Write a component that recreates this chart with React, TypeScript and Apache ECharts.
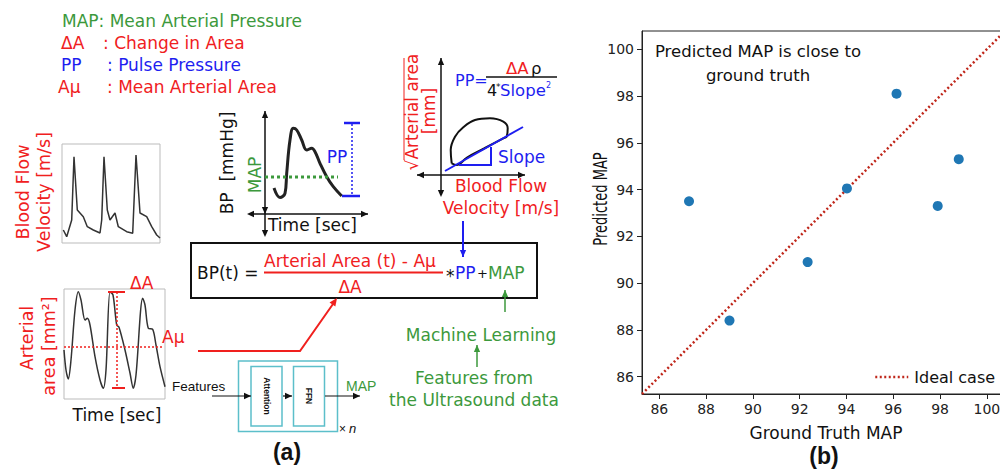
import React, { useEffect, useRef } from "react";
import * as echarts from "echarts";

// ---------- Panel (b): scatter data ----------
const groundTruthMAP = [87.27, 89.0, 92.34, 94.02, 96.14, 97.9, 98.8];
const predictedMAP = [93.5, 88.4, 90.9, 94.05, 98.1, 93.3, 95.3];
const idealCase = [85.26, 101.0];
const xTickValues = [86, 88, 90, 92, 94, 96, 98, 100];
const yTickValues = [86, 88, 90, 92, 94, 96, 98, 100];

// ---------- Panel (a): illustrative waveforms ----------
const velTime = [1.3, 4.7, 9.7, 12, 15.3, 21.3, 25.3, 31.3, 38, 39.7, 42, 45.3, 48, 53, 56.3, 64.7, 70.7, 74, 78, 84.7, 89.7, 94.7, 98];
const velValue = [13, 6.3, 23, 86.3, 33, 26.3, 16.3, 13, 10, 23, 86.3, 33, 23, 30, 16.3, 11.3, 9.7, 88, 30, 26.3, 16.3, 8, 5];

const areaTime = [0, 2, 4.3, 7, 11, 14.3, 17, 21, 23.3, 26, 31, 36, 39.3, 42, 46, 49, 52.7, 55, 61, 66, 69.3, 72, 78.7, 81, 84.3, 88.7, 92, 96, 101];
const areaValue = [49, 29, 20, 39, 89, 107.3, 99, 79, 80.7, 74, 42.3, 19, 10.7, 29, 107.3, 104, 74, 71.7, 49, 26, 10.7, 24, 100.7, 94, 70.7, 69.7, 54, 32.3, 12.3];

const bpTime = [9, 15, 20, 21.7, 25, 28.3, 31.7, 36.7, 41.7, 46.7, 50, 55, 61.7, 68.3, 76.7];
const bpValue = [26, 16.5, 20.7, 40.7, 74, 85.7, 84, 74, 64, 65.7, 62.3, 50.7, 37.3, 27.3, 18];

const loopFlow = [12.7, 11.7, 16, 24.3, 36, 51, 64.3, 68.7, 67.7, 64.3, 45, 28, 17.7, 12.7];
const loopArea = [12.7, 26, 39.3, 48.7, 56, 57.7, 54.3, 47.7, 39.3, 37.7, 27.5, 18.5, 11, 12.7];

const RED = "#f0201e";
const BLUE = "#1e1ef0";
const GREEN = "#3c993c";
const CYAN = "#5cbfca";
const FONT = "DejaVu Sans";
const ARIAL = "Liberation Sans";

const pairs = (a: number[], b: number[]) => a.map((v, i) => [v, b[i]]);

function T(text: string, x: number, y: number, o: any = {}) {
  return {
    type: "text",
    x,
    y,
    rotation: o.rot || 0,
    scaleX: o.sx || 1,
    scaleY: o.sy || 1,
    z: 10,
    style: {
      text,
      fill: o.color || "#111",
      fontSize: o.size || 17,
      fontFamily: o.family || FONT,
      fontWeight: o.weight || "normal",
      fontStyle: o.italic ? "italic" : "normal",
      textAlign: o.align || "left",
      textVerticalAlign: "middle",
    },
  };
}

function L(x1: number, y1: number, x2: number, y2: number, color: string, lw: number, dash?: number[]) {
  return {
    type: "line",
    z: 10,
    shape: { x1, y1, x2, y2 },
    style: { stroke: color, lineWidth: lw, lineDash: dash || null },
  };
}

function head(x: number, y: number, ang: number, size: number, color: string) {
  const w = size * 0.45;
  const bx = x - size * Math.cos(ang);
  const by = y - size * Math.sin(ang);
  const px = -Math.sin(ang) * w;
  const py = Math.cos(ang) * w;
  return {
    type: "polygon",
    z: 10,
    shape: { points: [[x, y], [bx + px, by + py], [bx - px, by - py]] },
    style: { fill: color },
  };
}

function arrow(x1: number, y1: number, x2: number, y2: number, color: string, lw: number, size: number, both = false) {
  const ang = Math.atan2(y2 - y1, x2 - x1);
  const els: any[] = [L(x1, y1, x2, y2, color, lw), head(x2, y2, ang, size, color)];
  if (both) els.push(head(x1, y1, ang + Math.PI, size, color));
  return els;
}

function buildGraphics() {
  const g: any[] = [];
  // legend of abbreviations
  g.push(T("MAP: Mean Arterial Pressure", 62, 21, { color: GREEN }));
  g.push(T("ΔA", 61, 43, { color: RED }));
  g.push(T(": Change in Area", 103, 43, { color: RED }));
  g.push(T("PP", 61, 65, { color: BLUE }));
  g.push(T(": Pulse Pressure", 107, 65, { color: BLUE }));
  g.push(T("Aμ", 58, 87, { color: RED }));
  g.push(T(": Mean Arterial Area", 107, 87, { color: RED }));

  // velocity mini plot labels
  g.push(T("Blood Flow", 23, 192, { color: RED, rot: Math.PI / 2, align: "center", size: 17.5 }));
  g.push(T("Velocity [m/s]", 44, 192, { color: RED, rot: Math.PI / 2, align: "center", size: 17.5 }));

  // arterial area mini plot labels / annotations
  g.push(T("Arterial", 27, 338, { color: RED, rot: Math.PI / 2, align: "center", size: 17.5 }));
  g.push(T("area [mm²]", 49, 346, { color: RED, rot: Math.PI / 2, align: "center", size: 17.5 }));
  g.push(T("Time [sec]", 117, 415, { align: "center" }));
  g.push(L(64, 347, 164, 347, RED, 1.5, [2, 2]));
  g.push(L(117, 292, 117, 388, RED, 1.5, [2, 2]));
  g.push(L(108, 292, 125, 292, RED, 2));
  g.push(L(112, 388, 125, 388, RED, 2));
  g.push(T("ΔA", 130, 283, { color: RED }));
  g.push(T("Aμ", 162, 337, { color: RED }));

  // BP plot
  g.push(...arrow(265, 214, 265, 111, "#111", 1.5, 7, true));
  g.push(L(265, 214, 265, 230, "#111", 1.5));
  g.push(head(265, 237, Math.PI / 2, 7, "#111"));
  g.push(...arrow(250, 214, 368, 214, "#111", 1.5, 7, false));
  g.push(head(247, 214, Math.PI, 7, "#111"));
  g.push(L(265, 177, 338, 177, GREEN, 3, [3, 3]));
  g.push(L(352, 124, 352, 196, BLUE, 1.5, [2, 2]));
  g.push(L(344, 123, 360, 123, BLUE, 2.5));
  g.push(L(342, 196, 360, 196, BLUE, 2.5));
  g.push(T("PP", 337, 157, { color: BLUE, align: "center" }));
  g.push(T("BP  [mmHg]", 227, 163, { rot: Math.PI / 2, align: "center" }));
  g.push(T("MAP", 255, 175, { color: GREEN, rot: Math.PI / 2, align: "center" }));
  g.push(T("Time [sec]", 268, 225));

  // loop plot
  g.push(...arrow(441, 175, 441, 58, "#111", 1.5, 7, false));
  g.push(L(441, 175, 441, 190, "#111", 1.5));
  g.push(head(441, 197, Math.PI / 2, 7, "#111"));
  g.push(...arrow(441, 175, 525, 175, "#111", 1.5, 7, false));
  g.push(...arrow(441, 175, 417, 175, "#111", 1.5, 7, false));
  g.push(L(445, 171, 523, 127, BLUE, 2));
  g.push({
    type: "polyline",
    z: 10,
    shape: { points: [[459, 165], [491, 165], [491, 147]] },
    style: { stroke: BLUE, lineWidth: 2, fill: null },
  });
  g.push(T("Slope", 498, 157, { color: BLUE }));
  g.push(T("√Arterial area", 412, 112, { color: RED, rot: Math.PI / 2, align: "center" }));
  g.push(L(404, 58, 404, 160, RED, 1));
  g.push(T("[mm]", 429, 111, { color: RED, rot: Math.PI / 2, align: "center" }));
  g.push(T("Blood Flow", 501, 186, { color: RED, align: "center" }));
  g.push(T("Velocity [m/s]", 501, 208, { color: RED, align: "center" }));
  // PP formula
  g.push(T("PP=", 455, 80, { color: BLUE, size: 16 }));
  g.push(L(486, 77, 557, 77, "#111", 1.5));
  g.push(T("ΔA", 506, 68, { color: RED, size: 16.5 }));
  g.push(T("ρ", 531, 68, { size: 16.5 }));
  g.push(T("4", 487, 90, { size: 16 }));
  g.push(T("*", 496, 87, { size: 9 }));
  g.push(T("Slope", 500, 90, { color: BLUE, size: 16.5 }));
  g.push(T("2", 546, 85, { color: BLUE, size: 8 }));

  // blue arrow to formula
  g.push(...arrow(463, 221, 463, 257, BLUE, 2, 7));

  // formula box
  g.push({
    type: "rect",
    z: 9,
    shape: { x: 191, y: 243, width: 346, height: 55 },
    style: { stroke: "#111", lineWidth: 2, fill: "#fff" },
  });
  g.push(T("BP(t) =", 197, 273, { size: 17 }));
  g.push(T("Arterial Area (t) - Aμ", 264, 261, { color: RED, size: 17 }));
  g.push(L(264, 272.5, 443, 272.5, RED, 2));
  g.push(T("ΔA", 350, 287, { color: RED, size: 17, align: "center" }));
  g.push(T("*", 446, 276, { size: 17 }));
  g.push(T("PP", 455, 273, { color: BLUE, size: 17 }));
  g.push(T("+", 477, 273, { size: 13 }));
  g.push(T("MAP", 488, 273, { color: GREEN, size: 17 }));

  // machine learning
  g.push(...arrow(505, 312, 505, 290, GREEN, 1.5, 7));
  g.push(T("Machine Learning", 481, 335, { color: GREEN, align: "center" }));
  g.push(...arrow(477, 367, 477, 345, GREEN, 1.5, 7));
  g.push(T("Features from", 474, 378, { color: GREEN, align: "center" }));
  g.push(T("the Ultrasound data", 474, 400, { color: GREEN, align: "center" }));

  // red connection
  g.push({
    type: "polyline",
    z: 10,
    shape: { points: [[198, 351], [300, 351], [333, 304]] },
    style: { stroke: RED, lineWidth: 2, fill: null },
  });
  g.push(head(337, 298, Math.atan2(298 - 351, 337 - 300), 8, RED));

  // transformer block
  g.push({ type: "rect", z: 10, shape: { x: 238.5, y: 361, width: 99, height: 70.5 }, style: { stroke: CYAN, lineWidth: 1.5, fill: null } });
  g.push({ type: "rect", z: 10, shape: { x: 251, y: 366.5, width: 31, height: 59.5 }, style: { stroke: CYAN, lineWidth: 1.5, fill: null } });
  g.push({ type: "rect", z: 10, shape: { x: 293.5, y: 366.5, width: 31, height: 59.5 }, style: { stroke: CYAN, lineWidth: 1.5, fill: null } });
  g.push(T("Attention", 267, 396, { family: ARIAL, size: 8.5, rot: -Math.PI / 2, align: "center", weight: "bold" }));
  g.push(T("FFN", 309, 396, { family: ARIAL, size: 8.5, rot: -Math.PI / 2, align: "center", weight: "bold" }));
  g.push(T("Features", 172, 386, { family: ARIAL, size: 13.5 }));
  g.push(...arrow(212, 396, 251, 396, "#111", 1.2, 7));
  g.push(...arrow(283, 396, 292, 396, "#111", 1.2, 7));
  g.push(...arrow(325, 396, 360, 396, "#111", 1.2, 7));
  g.push(T("MAP", 346, 386, { family: ARIAL, size: 14, color: GREEN }));
  g.push(T("× ", 339, 429, { family: ARIAL, size: 12 }));
  g.push(T("n", 349, 428, { family: ARIAL, size: 13, italic: true }));

  // panel captions
  g.push(T("(a)", 287, 452, { family: ARIAL, size: 23, weight: "bold", align: "center" }));
  g.push(T("(b)", 824, 456, { family: ARIAL, size: 23, weight: "bold", align: "center" }));

  // panel b: axis title (y) and annotation
  g.push(T("Predicted MAP", 600.5, 199, { rot: Math.PI / 2, align: "center", size: 19.5, sx: 0.67 }));
  g.push(T("Predicted MAP is close to", 758, 51, { align: "center", size: 16.5 }));
  g.push(T("ground truth", 758, 75, { align: "center", size: 16.5 }));
  return g;
}

function hiddenAxis(gridIndex: number, min: number, max: number) {
  return { type: "value", gridIndex, min, max, show: false, splitLine: { show: false } };
}

export default function App() {
  const ref = useRef<HTMLDivElement>(null);
  useEffect(() => {
    if (!ref.current) return;
    const chart = echarts.init(ref.current, undefined, { renderer: "svg" });
    const tickLabel = { color: "#222", fontSize: 14, fontFamily: FONT };
    const idealStyle = { color: "#c0281c", width: 2.5, type: [2, 2.5] };
    chart.setOption({
      animation: false,
      backgroundColor: "#fff",
      grid: [
        { left: 642, top: 31, width: 368, height: 363, show: true, borderColor: "#222", borderWidth: 1 },
        { left: 62, top: 144, width: 98, height: 99, show: true, borderColor: "#bbb", borderWidth: 1 },
        { left: 64, top: 289, width: 101, height: 110, show: true, borderColor: "#bbb", borderWidth: 1 },
        { left: 265, top: 112, width: 100, height: 102, show: false },
        { left: 439, top: 62, width: 100, height: 114, show: false },
      ],
      xAxis: [
        {
          type: "value",
          gridIndex: 0,
          min: 85.26,
          max: 100.99,
          name: "Ground Truth MAP",
          nameLocation: "middle",
          nameGap: 30,
          nameTextStyle: { fontSize: 17, fontFamily: FONT, color: "#111" },
          axisLine: { show: true, lineStyle: { color: "#222" } },
          axisTick: { show: true, customValues: xTickValues, length: 5, lineStyle: { color: "#222" } },
          axisLabel: { customValues: xTickValues, margin: 8, ...tickLabel },
          splitLine: { show: false },
        },
        hiddenAxis(1, 0, 98),
        hiddenAxis(2, 0, 101),
        hiddenAxis(3, 0, 100),
        hiddenAxis(4, 0, 100),
      ],
      yAxis: [
        {
          type: "value",
          gridIndex: 0,
          min: 85.26,
          max: 100.78,
          axisLine: { show: true, lineStyle: { color: "#222" } },
          axisTick: { show: true, customValues: yTickValues, length: 5, lineStyle: { color: "#222" } },
          axisLabel: { customValues: yTickValues, margin: 8, ...tickLabel },
          splitLine: { show: false },
        },
        hiddenAxis(1, 0, 99),
        hiddenAxis(2, 0, 110),
        hiddenAxis(3, 0, 102),
        hiddenAxis(4, 0, 114),
      ],
      legend: {
        data: ["Ideal case"],
        left: 869,
        top: 364,
        itemWidth: 33,
        itemHeight: 12,
        itemStyle: { opacity: 0 },
        lineStyle: idealStyle,
        textStyle: { fontSize: 16, fontFamily: FONT, color: "#111", padding: [0, 0, 0, 1] },
      },
      series: [
        {
          name: "Ideal case",
          type: "line",
          xAxisIndex: 0,
          yAxisIndex: 0,
          data: idealCase.map((v) => [v, v]),
          symbol: "none",
          color: "#c0281c",
          lineStyle: idealStyle,
          z: 2,
        },
        {
          name: "Predicted",
          type: "scatter",
          xAxisIndex: 0,
          yAxisIndex: 0,
          data: pairs(groundTruthMAP, predictedMAP),
          symbolSize: 10,
          itemStyle: { color: "#1f77b4", opacity: 1 },
          z: 3,
        },
        {
          name: "velocity",
          type: "line",
          xAxisIndex: 1,
          yAxisIndex: 1,
          data: pairs(velTime, velValue),
          symbol: "none",
          lineStyle: { color: "#333", width: 1.5 },
        },
        {
          name: "area",
          type: "line",
          xAxisIndex: 2,
          yAxisIndex: 2,
          data: pairs(areaTime, areaValue),
          symbol: "none",
          smooth: 0.3,
          lineStyle: { color: "#333", width: 1.5 },
        },
        {
          name: "bp",
          type: "line",
          xAxisIndex: 3,
          yAxisIndex: 3,
          data: pairs(bpTime, bpValue),
          symbol: "none",
          smooth: 0.4,
          lineStyle: { color: "#222", width: 3 },
        },
        {
          name: "loop",
          type: "line",
          xAxisIndex: 4,
          yAxisIndex: 4,
          data: pairs(loopFlow, loopArea),
          symbol: "none",
          smooth: 0.4,
          lineStyle: { color: "#111", width: 2 },
        },
      ],
      graphic: buildGraphics(),
    });
    return () => chart.dispose();
  }, []);
  return (
    <div style={{ position: "fixed", left: 0, top: 0, width: 1000, height: 472, overflow: "hidden", background: "#fff" }}>
      <div ref={ref} style={{ width: 1012, height: 472 }} />
    </div>
  );
}
